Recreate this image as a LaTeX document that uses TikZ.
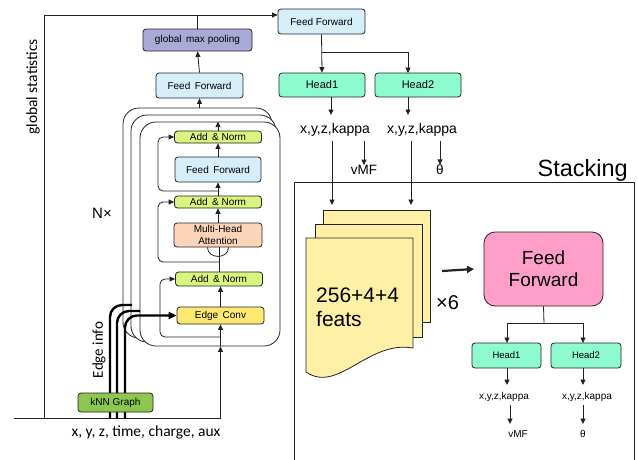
\documentclass[tikz,border=0pt]{standalone}
\usepackage{fontspec}
\setmainfont{Liberation Sans}
\newfontfamily\calfont{Carlito}
\usetikzlibrary{arrows.meta}
\definecolor{ffblue}{RGB}{214,238,250}
\definecolor{gmpc}{RGB}{170,170,214}
\definecolor{anc}{RGB}{218,245,125}
\definecolor{mhac}{RGB}{251,212,186}
\definecolor{ecc}{RGB}{254,232,112}
\definecolor{knnc}{RGB}{140,200,80}
\definecolor{headc}{RGB}{142,250,208}
\definecolor{pinkc}{RGB}{255,158,200}
\definecolor{docc}{RGB}{255,240,165}
\definecolor{linec}{RGB}{35,35,35}
\tikzset{
  box/.style={draw=linec, rounded corners=3pt, line width=0.8pt, inner sep=0pt, align=center, font=\fontsize{10}{11.5}\selectfont},
  frame/.style={draw=linec, rounded corners=16pt, line width=0.8pt, fill=white, inner sep=0pt},
  ln/.style={draw=linec, line width=0.8pt},
  arr/.style={ln, -{Triangle[length=5.5pt,width=5pt]}},
  thk/.style={draw=black, line width=2.4pt},
  lbl/.style={inner sep=0pt, font=\fontsize{14}{16}\selectfont},
  slbl/.style={inner sep=0pt, font=\fontsize{10}{12}\selectfont},
  cal/.style={inner sep=0pt, font=\calfont\fontsize{15.5}{17}\selectfont},
}
\begin{document}
\begin{tikzpicture}[x=1pt,y=-1pt]
\useasboundingbox (0,0) rectangle (638,459);

% ---------- left encoder ----------
\node[box, fill=gmpc, minimum width=109pt, minimum height=22pt] (gmp) at (197.5,40) {global\, max pooling};
\node[box, fill=ffblue, minimum width=87pt, minimum height=25pt] (ffL) at (199.5,85.5) {Feed\, Forward};

\node[frame, minimum width=149pt, minimum height=230pt] (L1) at (197.5,223) {};
\node[frame, minimum width=145pt, minimum height=227pt] (L2) at (203.5,228.5) {};
\node[frame, minimum width=140pt, minimum height=224pt] (L3) at (210,234) {};

\node[box, fill=anc, minimum width=87pt, minimum height=12pt] (an1) at (218,137) {Add \,\& Norm};
\node[box, fill=ffblue, minimum width=86pt, minimum height=25pt] (ff2) at (218,169.5) {Feed\, Forward};
\node[box, fill=anc, minimum width=87pt, minimum height=12pt] (an2) at (218,202) {Add \,\& Norm};
\node[box, fill=mhac, minimum width=88pt, minimum height=24pt] (mha) at (218,235) {Multi-Head\\Attention};
\node[box, fill=anc, minimum width=87pt, minimum height=14pt] (an3) at (219,279) {Add \,\& Norm};
\node[box, fill=ecc, minimum width=87pt, minimum height=17pt] (ec) at (220.5,315.5) {Edge\, Conv};

% chain arrows
\draw[arr] (ec.north) -- (ec.north |- an3.south);
\draw[ln] (an3.north) -- (an3.north |- mha.south);
\draw[ln] ([xshift=-10.5pt]mha.south) .. controls +(0,12) and +(0,12) .. ([xshift=10.5pt]mha.south);
\draw[arr] (mha.north) -- (an2.south);
\draw[arr] (an2.north) -- (ff2.south);
\draw[arr] (ff2.north) -- (an1.south);
\draw[arr] (an1.north) -- (an1.north |- L3.north);
\draw[arr] (ffL.south |- L1.north) -- (ffL.south);
\draw[arr] (ffL.north) -- (gmp.south);

% residuals
\coordinate (r1) at (218,191);
\coordinate (r2) at (219,262);
\coordinate (r3) at (220.5,337);
\draw[arr, rounded corners=5pt] (r1) -- (158,191) -- (158,137) -- (an1.west);
\draw[arr, rounded corners=5pt] (r2) -- (158,262) -- (158,202) -- (an2.west);
\draw[arr, rounded corners=5pt] (r3) -- (160,337) -- (160,279) -- (an3.west);

% input path
\coordinate (inp) at (220.5,418);
\coordinate (bl) at (14,418);
\coordinate (gsb) at (44,418);
\draw[ln] (bl) -- (inp);
\draw[arr] (inp) -- (inp |- L3.south);
\draw[arr] (inp |- L3.south) -- (ec.south);

% thick edge info curves
\draw[thk, rounded corners=12pt] (110,418) -- (110,305) -- (132,305);
\draw[thk, rounded corners=12pt] (117,418) -- (117,311) -- (140,311);
\draw[thk, rounded corners=12pt, -{Triangle[length=8pt,width=7pt]}] (125,418) |- (ec.west);

\node[box, fill=knnc, minimum width=75pt, minimum height=19pt] (knn) at (115.5,402.5) {kNN Graph};

% global statistics path
\node[box, fill=ffblue, minimum width=87pt, minimum height=25pt] (ffR) at (321.5,21.5) {Feed Forward};
\draw[arr] (gsb) |- ([yshift=6.5pt]ffR.west);
\draw[ln] (gmp.north) -- (gmp.north |- 0,15);

% labels left
\node[cal, rotate=90] (gstxt) at (33,87) {global statistics};
\node[cal, rotate=90, font=\calfont\fontsize{15}{17}\selectfont] (eitxt) at (99,350) {Edge info};
\node[cal] (inptxt) at (146,432) {x, y, z, time, charge, aux};
\node[lbl, font=\fontsize{15}{17}\selectfont] (ntxt) at (102,213) {N×};

% ---------- right top ----------
\node[box, fill=headc, minimum width=86pt, minimum height=24pt, font=\fontsize{11}{13}\selectfont] (h1) at (322,85) {Head1};
\node[box, fill=headc, minimum width=86pt, minimum height=24pt, font=\fontsize{11}{13}\selectfont] (h2) at (418,85) {Head2};
\coordinate (sp) at (322,52);
\draw[arr] (ffR.south) -- (h1.north);
\draw[arr] (sp) -- (408,52) -- (408,73);

\node[lbl] (k1) at (335,130) {x,y,z,kappa};
\node[lbl] (k2) at (422,130) {x,y,z,kappa};
\draw[arr] (331,97) -- (331,115);
\draw[arr] (408,97) -- (408,115);
\node[lbl, font=\fontsize{13.5}{15}\selectfont] (vmf1) at (364,170) {vMF};
\node[lbl, font=\fontsize{13.5}{15}\selectfont] (th1) at (440,170) {θ};
\draw[arr] (364,141) -- (vmf1.north);
\draw[arr] (440,141) -- (th1.north);

% ---------- stacking ----------
\draw[ln] (294,462) -- (294,182) -- (634,182) -- (634,462);
\node[inner sep=0pt, anchor=base east, font=\fontsize{23.5}{26}\selectfont] (stk) at (628,176) {Stacking};

\draw[ln, fill=docc] (323,210) rectangle (430,322);
\draw[ln, fill=docc] (315,224) rectangle (422,337);
\draw[ln, fill=docc] (306,238) -- (413,238) -- (413,348) .. controls (368,340) and (338,394) .. (306,372) -- cycle;
\coordinate (doc1) at (332,205);
\coordinate (doc2) at (411,205);
\draw[arr] (332,141) -- (doc1);
\draw[arr] (411,141) -- (doc2);
\node[inner sep=0pt, anchor=west, align=left, font=\fontsize{21}{24}\selectfont] (feats) at (316,307) {256+4+4\\feats};
\node[inner sep=0pt, font=\fontsize{20}{22}\selectfont] (x6) at (447.5,303) {×6};

\node[box, fill=pinkc, rounded corners=11pt, minimum width=119pt, minimum height=74pt, font=\fontsize{19}{22}\selectfont] (ffP) at (543.5,269) {Feed\\Forward};
\coordinate (ta) at (442,271);
\draw[ln, line width=2.2pt, -{Triangle[length=7pt,width=7pt]}] (ta) -- (ffP.west -| 474,0);

\node[box, fill=headc, minimum width=69pt, minimum height=25pt, font=\fontsize{9.5}{11}\selectfont] (sh1) at (506.5,355.5) {Head1};
\node[box, fill=headc, minimum width=70pt, minimum height=25pt, font=\fontsize{9.5}{11}\selectfont] (sh2) at (586,355.5) {Head2};
\coordinate (sp2) at (544,323);
\draw[ln] (ffP.south) -- (sp2);
\draw[arr] (sp2) -| (507,343);
\draw[arr] (sp2) -| (583,343);
\draw[arr] (507,368) -- (507,385);
\draw[arr] (583,368) -- (583,385);
\node[slbl] (sk1) at (504,397) {x,y,z,kappa};
\node[slbl] (sk2) at (587,397) {x,y,z,kappa};
\node[slbl] (svmf) at (518,434) {vMF};
\node[slbl] (sth) at (583,434) {θ};
\draw[arr] (510,405) -- (510,424);
\draw[arr] (583,405) -- (583,424);
\end{tikzpicture}
\end{document}
